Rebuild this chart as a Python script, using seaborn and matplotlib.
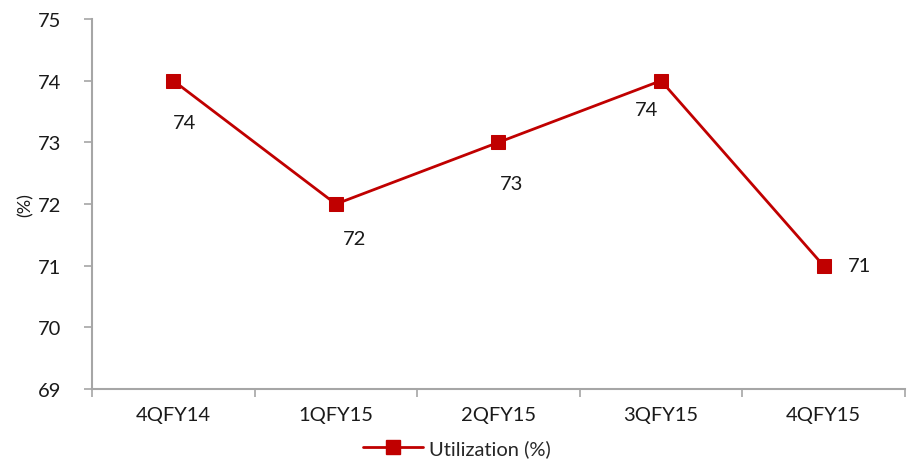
import matplotlib
matplotlib.use("Agg")
import matplotlib.pyplot as plt
from matplotlib.ticker import FixedLocator
from matplotlib.lines import Line2D
import seaborn as sns
import pandas as pd

quarters = ["4QFY14", "1QFY15", "2QFY15", "3QFY15", "4QFY15"]
utilization = [74, 72, 73, 74, 71]
series_name = "Utilization (%)"
y_ticks = [69, 70, 71, 72, 73, 74, 75]

# label offsets (pixels) relative to each point
label_offsets = [(11, -42), (19, -34), (13, -41), (-14, -29), (36, 0)]

sns.set_theme(style="white")
plt.rcParams["font.family"] = ["Lato", "DejaVu Sans"]

df = pd.DataFrame({"quarter": quarters, "value": utilization})

fig = plt.figure(figsize=(9.14, 4.6), dpi=100)
ax = fig.add_axes([0.1007, 0.152, 0.8893, 0.8045])

red = "#C00000"
sns.lineplot(data=df, x="quarter", y="value", ax=ax, color=red, linewidth=2,
             marker="s", markersize=10, markeredgecolor=red,
             legend=False, sort=False)

ax.set_xlim(-0.5, len(quarters) - 0.5)
ax.set_ylim(69, 75)
ax.set_yticks(y_ticks)
ax.set_yticklabels([str(t) for t in y_ticks], fontsize=14.5, color="#1a1a1a")
ax.set_xticks(range(len(quarters)))
ax.set_xticklabels(quarters, fontsize=14.5, color="#1a1a1a")
ax.xaxis.set_minor_locator(FixedLocator([i - 0.5 for i in range(len(quarters) + 1)]))
ax.tick_params(axis="x", which="major", length=0, pad=12)
ax.tick_params(axis="x", which="minor", length=6, width=1.2, color="#a6a6a6", bottom=True)
ax.tick_params(axis="y", which="major", length=6, width=1.2, color="#a6a6a6", left=True, pad=16)

for side in ["top", "right"]:
    ax.spines[side].set_visible(False)
for side in ["left", "bottom"]:
    ax.spines[side].set_color("#a6a6a6")
    ax.spines[side].set_linewidth(1.5)

ax.set_xlabel("")
ax.set_ylabel("(%)", fontsize=13, color="#1a1a1a", labelpad=3)

for i, (v, off) in enumerate(zip(utilization, label_offsets)):
    ax.annotate(f"{v}", xy=(i, v), xytext=off, textcoords="offset pixels",
                ha="center", va="center", fontsize=14.5, color="#1a1a1a")

handles = [Line2D([], [], color=red, lw=2, marker="s", markersize=10)]
fig.legend(handles, [series_name], loc="lower center", bbox_to_anchor=(0.5, -0.035),
           frameon=False, fontsize=14.5, handlelength=3, handletextpad=0.3)

fig.savefig("out.png", dpi=100)
